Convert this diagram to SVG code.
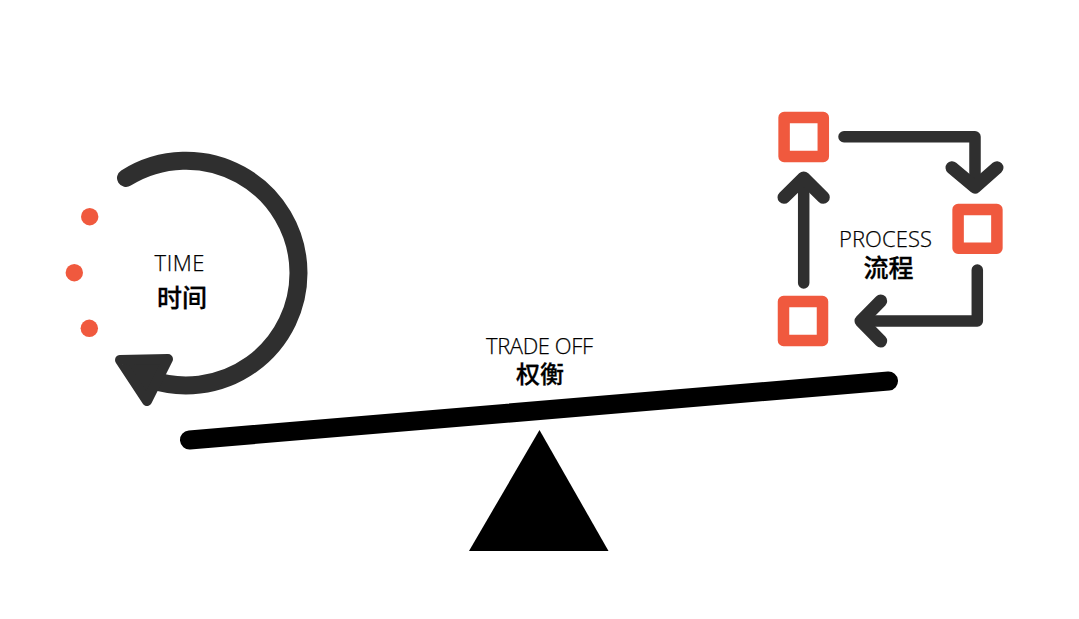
<svg xmlns="http://www.w3.org/2000/svg" width="1079" height="619" viewBox="0 0 1079 619">
<style>
.en{font-family:"Open Sans","Noto Sans",sans-serif;font-weight:300;font-size:22px;fill:#000;stroke:#000;stroke-width:.25;text-anchor:middle}
.zh{font-family:"Noto Sans CJK SC","Noto Sans CJK JP",sans-serif;font-weight:500;font-size:25px;fill:#000;stroke:#000;stroke-width:.3;text-anchor:middle}
.ln{fill:none;stroke:#2f2f2f;stroke-width:11.500;stroke-linecap:round;stroke-linejoin:round}
.hd{fill:none;stroke:#2f2f2f;stroke-width:13;stroke-linecap:round;stroke-linejoin:round}
.sq{fill:#fff;stroke:#f0593e;stroke-width:11.500;stroke-linejoin:round}
.dot{fill:#f0593e}
</style>
<rect width="1079" height="619" fill="#fff"/>
<g id="connectors">
<path id="time-arc" d="M126 178A112.500 112.500 0 0 1 298.500 273A112.500 112.500 0 0 1 150 379.500" fill="none" stroke="#2f2f2f" stroke-width="18" stroke-linecap="round"/>
<polygon id="time-head" points="120,360 168,359 147,401" fill="#2f2f2f" stroke="#2f2f2f" stroke-width="10" stroke-linejoin="round"/>
<path class="ln" d="M844 136.700H975V187"/>
<path class="hd" d="M952 167.700L975 187L997 167.700"/>
<path class="ln" d="M977.300 270V321H861"/>
<path class="hd" d="M880.700 301L861 321L880.700 341"/>
<path class="ln" d="M803.700 283V178"/>
<path class="hd" d="M784 197.300L803.700 178L823.300 197.300"/>
</g>
<g id="time">
<circle class="dot" cx="89.700" cy="216.700" r="8.700"/>
<circle class="dot" cx="74.300" cy="272.700" r="8.700"/>
<circle class="dot" cx="89.300" cy="328.300" r="8.700"/>
<text class="en" x="179.500" y="271" textLength="50">TIME</text>
<text class="zh" x="182" y="306.500">时间</text>
</g>
<g id="process">
<rect class="sq" x="784.100" y="117.500" width="39.200" height="39"/>
<rect class="sq" x="958.100" y="209.500" width="38.800" height="38.700"/>
<rect class="sq" x="783.500" y="301.500" width="39" height="39"/>
<text class="en" x="885.500" y="247" textLength="93">PROCESS</text>
<text class="zh" x="888.500" y="277">流程</text>
</g>
<g id="tradeoff">
<line x1="189.500" y1="440" x2="888.500" y2="381" stroke="#000" stroke-width="19" stroke-linecap="round"/>
<polygon points="539.500,430 469,551 608.500,551" fill="#000"/>
<text class="en" x="539.500" y="354" textLength="107">TRADE OFF</text>
<text class="zh" x="540" y="383" style="font-size:24px">权衡</text>
</g>
</svg>
